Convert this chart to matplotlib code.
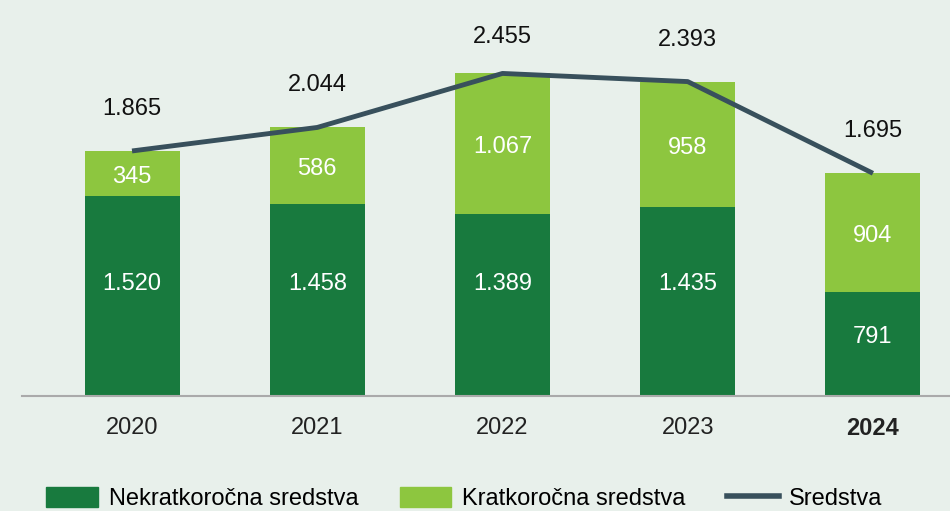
import numpy as np
import matplotlib.pyplot as plt
from matplotlib.patches import Patch
from matplotlib.lines import Line2D

years = ['2020', '2021', '2022', '2023', '2024']
nekratkorocna = [1520, 1458, 1389, 1435, 791]
kratkorocna = [345, 586, 1067, 958, 904]
sredstva = [1865, 2044, 2455, 2393, 1695]

def fmt(v):
    return f'{v:,}'.replace(',', '.')

bg = '#e8f0eb'
c_dark = '#187a3e'
c_light = '#8dc63f'
c_line = '#38505c'

plt.rcParams['font.family'] = ['Liberation Sans', 'DejaVu Sans']

fig = plt.figure(figsize=(9.5, 5.11), dpi=100, facecolor=bg)
ax = fig.add_axes([22/950, 1 - 396/511, 928/950, 396/511])
ax.set_facecolor(bg)

x = np.arange(len(years))
w = 0.513
ax.bar(x, nekratkorocna, width=w, color=c_dark)
ax.bar(x, kratkorocna, width=w, bottom=nekratkorocna, color=c_light)
ax.plot(x, sredstva, color=c_line, linewidth=3.5, solid_capstyle='butt')

for i in range(len(years)):
    y_in = 855 if nekratkorocna[i] > 1000 else nekratkorocna[i] * 0.57
    ax.text(x[i], y_in, fmt(nekratkorocna[i]), ha='center', va='center',
            color='white', fontsize=17)
    ax.text(x[i], nekratkorocna[i] + kratkorocna[i] / 2 - 25, fmt(kratkorocna[i]), ha='center', va='center',
            color='white', fontsize=17)
    ax.text(x[i], min(sredstva[i] + 320, 2730), fmt(sredstva[i]), ha='center', va='center',
            color='#111111', fontsize=17)

ax.set_xlim(-0.594, 4.416)
ax.set_ylim(0, 3014)
ax.set_yticks([])
ax.set_xticks(x)
ax.set_xticklabels(years, fontsize=17, color='#222222')
ax.get_xticklabels()[-1].set_fontweight('bold')
ax.tick_params(axis='x', length=0, pad=15)
for s in ['top', 'right', 'left']:
    ax.spines[s].set_visible(False)
ax.spines['bottom'].set_color('#aaaaaa')
ax.spines['bottom'].set_linewidth(1.5)

handles = [Patch(color=c_dark), Patch(color=c_light), Line2D([], [], color=c_line, linewidth=4)]
labels = ['Nekratkoročna sredstva', 'Kratkoročna sredstva', 'Sredstva']
fig.legend(handles, labels, loc='upper left', bbox_to_anchor=(46/950, 1 - 487/511), ncol=3, frameon=False,
           fontsize=17, handlelength=2.2, handleheight=0.95, handletextpad=0.45, columnspacing=1.75,
           borderpad=0, borderaxespad=0)

fig.savefig('out.png', dpi=100, facecolor=bg)
